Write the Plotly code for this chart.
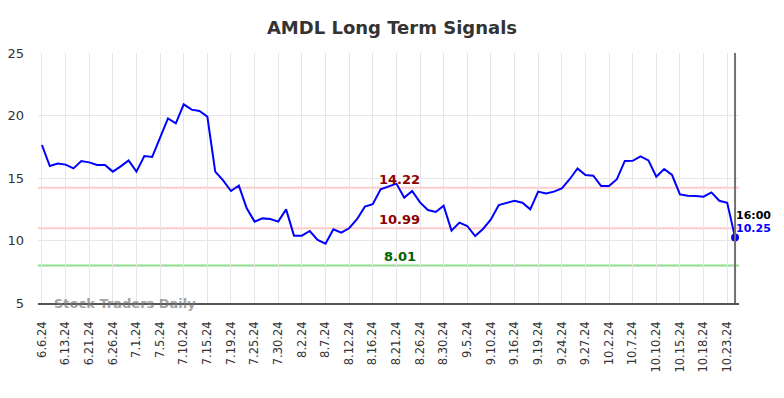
import plotly.graph_objects as go

tick_labels = ["6.6.24", "6.13.24", "6.21.24", "6.26.24", "7.1.24", "7.5.24", "7.10.24",
               "7.15.24", "7.19.24", "7.25.24", "7.30.24", "8.2.24", "8.7.24", "8.12.24",
               "8.16.24", "8.21.24", "8.26.24", "8.30.24", "9.5.24", "9.10.24", "9.16.24",
               "9.19.24", "9.24.24", "9.27.24", "10.2.24", "10.7.24", "10.10.24", "10.15.24",
               "10.18.24", "10.23.24"]

prices = [17.64, 15.96, 16.15, 16.07, 15.77, 16.36, 16.25, 16.04, 16.04, 15.51,
          15.93, 16.41, 15.51, 16.76, 16.68, 18.17, 19.77, 19.37, 20.89, 20.47,
          20.36, 19.91, 15.51, 14.81, 13.96, 14.39, 12.57, 11.51, 11.77, 11.72,
          11.51, 12.49, 10.39, 10.39, 10.76, 10.04, 9.75, 10.90, 10.63, 10.98,
          11.70, 12.71, 12.90, 14.10, 14.31, 14.55, 13.43, 13.96, 13.05, 12.44,
          12.28, 12.79, 10.79, 11.43, 11.16, 10.36, 10.92, 11.69, 12.84, 13.00,
          13.18, 13.02, 12.49, 13.91, 13.77, 13.91, 14.17, 14.90, 15.77, 15.24,
          15.19, 14.36, 14.36, 14.90, 16.37, 16.38, 16.73, 16.41, 15.10, 15.72,
          15.24, 13.69, 13.58, 13.56, 13.51, 13.85, 13.18, 13.02, 10.25]

resistance_levels = [14.22, 10.99]
support_levels = [8.01]
last_time = "16:00"
title = "AMDL Long Term Signals"
watermark = "Stock Traders Daily"

x = list(range(len(prices)))
tick_vals = x[::3][:len(tick_labels)]
last_i = x[-1]
last_v = prices[-1]

fig = go.Figure()
fig.add_trace(go.Scatter(x=x, y=prices, mode="lines",
                         line=dict(color="#0000ff", width=2), hoverinfo="skip"))
fig.add_trace(go.Scatter(x=[last_i], y=[last_v], mode="markers",
                         marker=dict(color="#0000ff", size=8), hoverinfo="skip"))

shapes = []
for lv in resistance_levels:
    shapes.append(dict(type="line", xref="paper", x0=0, x1=1, yref="y", y0=lv, y1=lv,
                       line=dict(color="#ffcccc", width=2), layer="below"))
for lv in support_levels:
    shapes.append(dict(type="line", xref="paper", x0=0, x1=1, yref="y", y0=lv, y1=lv,
                       line=dict(color="#90e090", width=2), layer="below"))
shapes.append(dict(type="line", xref="x", x0=last_i, x1=last_i, yref="paper", y0=0, y1=1,
                   line=dict(color="#707070", width=2)))

annotations = []
label_x = 45.4
for lv in resistance_levels:
    annotations.append(dict(x=label_x, y=lv, xref="x", yref="y", text=f"<b>{lv:.2f}</b>",
                            showarrow=False, yanchor="bottom", yshift=-1,
                            font=dict(family="DejaVu Sans", size=13, color="#8b0000")))
for lv in support_levels:
    annotations.append(dict(x=label_x, y=lv, xref="x", yref="y", text=f"<b>{lv:.2f}</b>",
                            showarrow=False, yanchor="bottom", yshift=-1,
                            font=dict(family="DejaVu Sans", size=13, color="#006400")))
annotations.append(dict(x=last_i, y=last_v, xref="x", yref="y", text=f"<b>{last_time}</b>",
                        showarrow=False, xanchor="left", yanchor="middle", xshift=-1, yshift=22,
                        font=dict(family="DejaVu Sans", size=11, color="#000000")))
annotations.append(dict(x=last_i, y=last_v, xref="x", yref="y", text=f"<b>{last_v:.2f}</b>",
                        showarrow=False, xanchor="left", yanchor="middle", xshift=-1, yshift=9,
                        font=dict(family="DejaVu Sans", size=11, color="#0000ff")))
annotations.append(dict(x=0.02, y=5, xref="paper", yref="y", text=f"<b>{watermark}</b>",
                        showarrow=False, xanchor="left", yanchor="middle",
                        font=dict(family="DejaVu Sans", size=13, color="rgba(120,120,120,0.7)")))

fig.update_layout(
    width=784, height=398, autosize=False,
    margin=dict(l=38, r=45, t=53, b=95),
    paper_bgcolor="white", plot_bgcolor="white",
    showlegend=False,
    title=dict(text=f"<b>{title}</b>", x=0.5, xanchor="center", y=0.93, yanchor="middle",
               font=dict(family="DejaVu Sans", size=18, color="#333333")),
    shapes=shapes, annotations=annotations,
    font=dict(family="DejaVu Sans", color="#333333"),
)
fig.update_xaxes(range=[-0.5, 88.5], tickmode="array", tickvals=tick_vals, ticktext=tick_labels,
                 tickangle=-90, tickfont=dict(size=11.5, color="#333333"), ticklabelstandoff=12,
                 showgrid=True, gridcolor="#e6e6e6", gridwidth=1, automargin=False,
                 showline=True, linecolor="#555555", linewidth=1.5, zeroline=False, ticks="")
fig.update_yaxes(range=[5, 25], tickvals=[5, 10, 15, 20, 25],
                 tickfont=dict(size=13, color="#333333"), ticklabelstandoff=13,
                 showgrid=True, gridcolor="#e6e6e6", gridwidth=1, automargin=False,
                 showline=False, zeroline=False, ticks="", ticklen=0)

fig.write_html("out.html", config={"displayModeBar": False},
               post_script="document.body.style.margin='0';document.body.style.padding='0';")
